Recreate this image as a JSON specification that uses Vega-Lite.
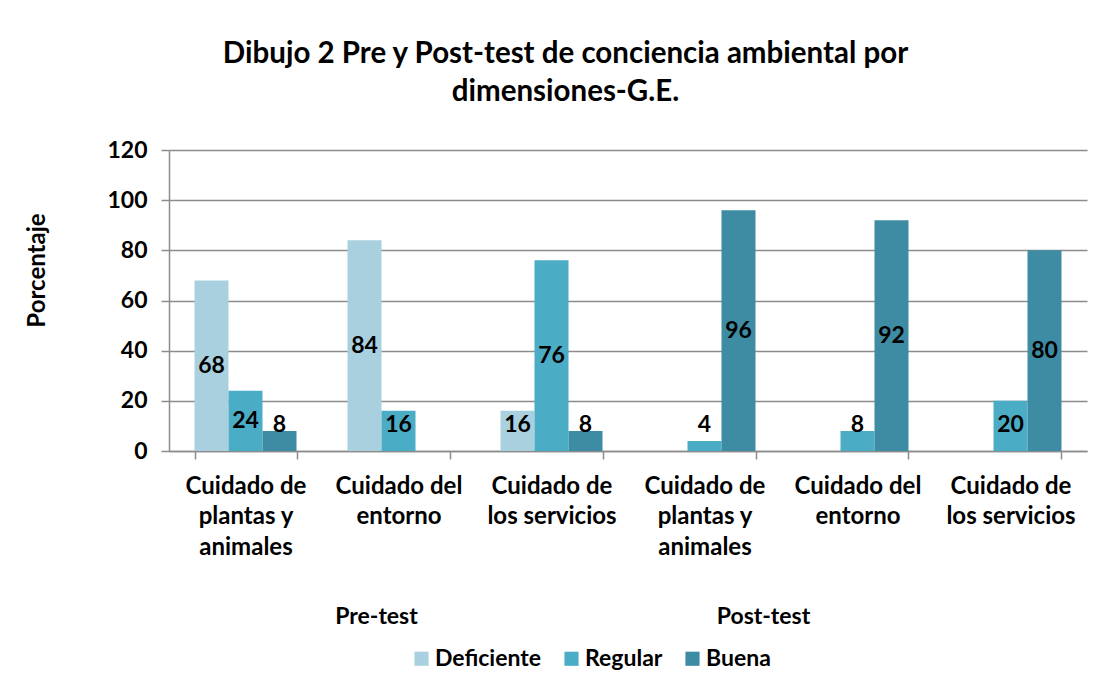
{
  "$schema": "https://vega.github.io/schema/vega-lite/v6.json",
  "width": 918,
  "height": 301,
  "autosize": {"type": "none"},
  "padding": {"left": 169, "top": 150, "right": 19, "bottom": 241},
  "background": "white",
  "config": {
    "font": "Lato",
    "view": {"stroke": null}
  },
  "data": {
    "values": [
      {"test": "Pre-test", "dim": "Cuidado de plantas y animales", "nivel": "Deficiente", "valor": 68},
      {"test": "Pre-test", "dim": "Cuidado de plantas y animales", "nivel": "Regular", "valor": 24},
      {"test": "Pre-test", "dim": "Cuidado de plantas y animales", "nivel": "Buena", "valor": 8},
      {"test": "Pre-test", "dim": "Cuidado del entorno", "nivel": "Deficiente", "valor": 84},
      {"test": "Pre-test", "dim": "Cuidado del entorno", "nivel": "Regular", "valor": 16},
      {"test": "Pre-test", "dim": "Cuidado de los servicios", "nivel": "Deficiente", "valor": 16},
      {"test": "Pre-test", "dim": "Cuidado de los servicios", "nivel": "Regular", "valor": 76},
      {"test": "Pre-test", "dim": "Cuidado de los servicios", "nivel": "Buena", "valor": 8},
      {"test": "Post-test", "dim": "Cuidado de plantas y animales", "nivel": "Regular", "valor": 4},
      {"test": "Post-test", "dim": "Cuidado de plantas y animales", "nivel": "Buena", "valor": 96},
      {"test": "Post-test", "dim": "Cuidado del entorno", "nivel": "Regular", "valor": 8},
      {"test": "Post-test", "dim": "Cuidado del entorno", "nivel": "Buena", "valor": 92},
      {"test": "Post-test", "dim": "Cuidado de los servicios", "nivel": "Regular", "valor": 20},
      {"test": "Post-test", "dim": "Cuidado de los servicios", "nivel": "Buena", "valor": 80}
    ]
  },
  "transform": [
    {"calculate": "datum.test + '|' + datum.dim", "as": "grupo"},
    {"calculate": "max(datum.valor / 2, 10.5)", "as": "posEtiqueta"}
  ],
  "layer": [
    {
      "layer": [
        {
          "mark": {"type": "bar"},
          "encoding": {
            "x": {
              "field": "grupo",
              "type": "nominal",
              "sort": [
                "Pre-test|Cuidado de plantas y animales",
                "Pre-test|Cuidado del entorno",
                "Pre-test|Cuidado de los servicios",
                "Post-test|Cuidado de plantas y animales",
                "Post-test|Cuidado del entorno",
                "Post-test|Cuidado de los servicios"
              ],
              "scale": {"paddingInner": 0.3333, "paddingOuter": 0.1667},
              "axis": {
                "title": null,
                "labelAngle": 0,
                "labelExpr": "indexof(datum.value + '', '|') < 0 ? '' : (split(datum.value, '|')[1] == 'Cuidado de plantas y animales' ? ['Cuidado de', 'plantas y', 'animales'] : (split(datum.value, '|')[1] == 'Cuidado del entorno' ? ['Cuidado del', 'entorno'] : ['Cuidado de', 'los servicios']))",
                "labelFont": "Lato",
                "labelFontSize": 24,
                "labelFontWeight": "bold",
                "labelColor": "black",
                "labelLineHeight": 30.5,
                "labelPadding": 15,
                "labelBaseline": "top",
                "domainColor": "#8c8c8c",
                "domainWidth": 1.5,
                "tickColor": "#8c8c8c",
                "tickWidth": 1.5,
                "tickSize": 8,
                "tickBand": "extent",
                "grid": false,
                "labelBound": false,
                "labelOverlap": false
              }
            },
            "xOffset": {
              "field": "nivel",
              "type": "nominal",
              "sort": ["Deficiente", "Regular", "Buena"],
              "scale": {"domain": ["Deficiente", "Regular", "Buena"], "paddingInner": 0, "paddingOuter": 0}
            },
            "y": {
              "field": "valor",
              "type": "quantitative",
              "scale": {"domain": [0, 120]},
              "axis": {
                "values": [0, 20, 40, 60, 80, 100, 120],
                "title": "Porcentaje",
                "titleFont": "Lato",
                "titleFontSize": 24,
                "titleFontWeight": "bold",
                "titleColor": "black",
                "titleAngle": -90,
                "titleX": -132,
                "titleY": 120,
                "titleAlign": "center",
                "titleBaseline": "middle",
                "labelFont": "Lato",
                "labelFontSize": 23,
                "labelFontWeight": "bold",
                "labelColor": "black",
                "labelPadding": 14,
                "domainColor": "#8c8c8c",
                "domainWidth": 1.5,
                "tickColor": "#8c8c8c",
                "tickWidth": 1.5,
                "tickSize": 8,
                "gridColor": "#8c8c8c",
                "gridWidth": 1.5
              }
            },
            "color": {
              "field": "nivel",
              "type": "nominal",
              "sort": ["Deficiente", "Regular", "Buena"],
              "scale": {"domain": ["Deficiente", "Regular", "Buena"], "range": ["#a9d0de", "#4bacc6", "#3d8ca4"]},
              "legend": {
                "title": null,
                "orient": "none",
                "legendX": 241,
                "legendY": 497,
                "direction": "horizontal",
                "symbolType": "square",
                "symbolSize": 200,
                "symbolStrokeWidth": 0,
                "labelFont": "Lato",
                "labelFontSize": 23,
                "labelFontWeight": "bold",
                "labelColor": "black",
                "labelOffset": 2,
                "columnPadding": 18
              }
            }
          }
        },
        {
          "mark": {"type": "text", "font": "Lato", "fontSize": 23, "fontWeight": "bold", "color": "black", "baseline": "middle", "align": "center"},
          "encoding": {
            "x": {"field": "grupo", "type": "nominal", "sort": [
                "Pre-test|Cuidado de plantas y animales",
                "Pre-test|Cuidado del entorno",
                "Pre-test|Cuidado de los servicios",
                "Post-test|Cuidado de plantas y animales",
                "Post-test|Cuidado del entorno",
                "Post-test|Cuidado de los servicios"
              ]},
            "xOffset": {"field": "nivel", "type": "nominal", "sort": ["Deficiente", "Regular", "Buena"]},
            "y": {"field": "posEtiqueta", "type": "quantitative"},
            "text": {"field": "valor", "type": "quantitative"}
          }
        }
      ],
      "resolve": {"scale": {"x": "shared", "xOffset": "shared"}, "axis": {"x": "shared"}}
    },
    {
      "mark": {"type": "bar", "opacity": 0},
      "encoding": {
        "x": {
          "field": "test",
          "type": "nominal",
          "sort": ["Pre-test", "Post-test"],
          "axis": {
            "title": null,
            "orient": "bottom",
            "labelAngle": 0,
            "labelFont": "Lato",
            "labelFontSize": 23,
            "labelFontWeight": "bold",
            "labelColor": "black",
            "labelBaseline": "middle",
            "labelPadding": 165,
            "labelOffset": {"condition": {"test": "datum.value == 'Post-test'", "value": -94}, "value": -22},
            "domain": false,
            "ticks": false,
            "grid": false
          }
        },
        "y": {"field": "valor", "type": "quantitative"}
      }
    },
    {
      "mark": {"type": "bar", "opacity": 0},
      "encoding": {
        "x": {
          "field": "test",
          "type": "nominal",
          "sort": ["Pre-test", "Post-test"],
          "axis": {
            "orient": "top",
            "title": ["Dibujo 2 Pre y Post-test de conciencia ambiental por", "dimensiones-G.E."],
            "titleFont": "Lato",
            "titleFontSize": 29.5,
            "titleFontWeight": "bold",
            "titleColor": "black",
            "titleLineHeight": 38,
            "titleAlign": "center",
            "titleBaseline": "bottom",
            "titleX": 396,
            "titlePadding": 44,
            "labels": false,
            "domain": false,
            "ticks": false,
            "grid": false
          }
        },
        "y": {"field": "valor", "type": "quantitative"}
      }
    }
  ],
  "resolve": {"scale": {"x": "independent"}, "axis": {"x": "independent"}}
}
